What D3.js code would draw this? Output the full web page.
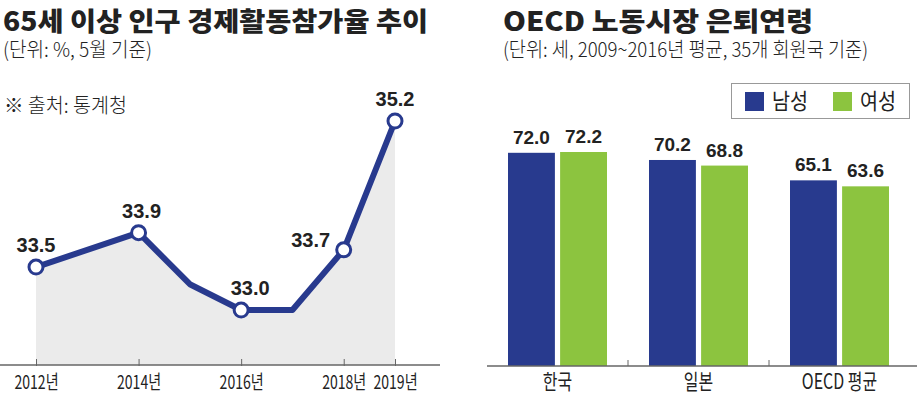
<!DOCTYPE html>
<html><head><meta charset="utf-8">
<script src="https://cdn.jsdelivr.net/npm/d3@7"></script>
<style>
html,body{margin:0;padding:0;background:#fff;}
svg{display:block;}
text{font-family:"Noto Sans CJK KR","Noto Sans",sans-serif;fill:#222;}
.num{font-family:"Liberation Sans",Arial,sans-serif;font-weight:700;}
</style></head>
<body>
<svg id="c" width="917" height="399"></svg>
<script>
// ---- Left chart data ----
const years = [2012, 2014, 2015, 2016, 2017, 2018, 2019];
const rates = [33.5, 33.9, 33.3, 33.0, 33.0, 33.7, 35.2];
const markedYears = [2012, 2014, 2016, 2018, 2019];
const tickYears = [2012, 2014, 2016, 2018, 2019];
const leftTitle = "65세 이상 인구 경제활동참가율 추이";
const leftUnit = "(단위: %, 5월 기준)";
const leftSource = "※ 출처: 통계청";

// ---- Right chart data ----
const countries = ["한국", "일본", "OECD 평균"];
const sexes = ["남성", "여성"];
const maleAge = [72.0, 70.2, 65.1];
const femaleAge = [72.2, 68.8, 63.6];
const rightTitle = "OECD 노동시장 은퇴연령";
const rightUnit = "(단위: 세, 2009~2016년 평균, 35개 회원국 기준)";

const NAVY = "#283a8e", GREEN = "#8cc43f", FILL = "#ebebeb", AXIS = "#666";
const svg = d3.select("#c");

// ================= LEFT =================
const L = svg.append("g");
L.append("text").attr("x", 3).attr("y", 31).attr("font-size", 26).attr("font-weight", 900)
  .attr("textLength", 425).attr("lengthAdjust", "spacingAndGlyphs").text(leftTitle);
L.append("text").attr("x", 3).attr("y", 57).attr("font-size", 20).attr("font-weight", 300)
  .attr("textLength", 149).attr("lengthAdjust", "spacingAndGlyphs").attr("fill", "#333").text(leftUnit);
L.append("text").attr("x", 4).attr("y", 113).attr("font-size", 20).attr("font-weight", 300)
  .attr("textLength", 123).attr("lengthAdjust", "spacingAndGlyphs").attr("fill", "#333").text(leftSource);

const xL = d3.scaleLinear().domain([2012, 2019]).range([36, 395]);
const yL = d3.scaleLinear().domain([32.36, 35.2]).range([365, 121]);
const pts = years.map((y, i) => ({year: y, v: rates[i]}));

L.append("path").datum(pts)
  .attr("d", d3.area().x(d => xL(d.year)).y0(yL(32.36)).y1(d => yL(d.v)))
  .attr("fill", FILL);

const axL = d3.axisBottom(xL).tickValues(tickYears).tickSize(-6).tickPadding(11)
  .tickFormat(d => d + "년");
const gAxL = L.append("g").attr("transform", "translate(0,365)").call(axL);
gAxL.select(".domain").remove();
gAxL.selectAll(".tick line").attr("stroke", AXIS).attr("y2", -6).attr("y1", 1);
gAxL.selectAll(".tick text").attr("font-size", 19).attr("fill", "#222").attr("font-weight", 400)
  .style("font-family", '"Noto Sans CJK KR",sans-serif').attr("transform", "scale(0.74,1)");
L.append("line").attr("x1", 0).attr("x2", 440).attr("y1", 365).attr("y2", 365)
  .attr("stroke", AXIS).attr("stroke-width", 1.3);

L.append("path").datum(pts)
  .attr("d", d3.line().x(d => xL(d.year)).y(d => yL(d.v)))
  .attr("fill", "none").attr("stroke", NAVY).attr("stroke-width", 6).attr("stroke-linejoin", "round");

const marked = pts.filter(d => markedYears.includes(d.year));
L.selectAll("circle.m").data(marked).join("circle")
  .attr("cx", d => xL(d.year)).attr("cy", d => yL(d.v)).attr("r", 7)
  .attr("fill", "#fff").attr("stroke", NAVY).attr("stroke-width", 3);

L.selectAll("text.v").data(marked).join("text").attr("class", "num")
  .attr("font-size", 20).attr("text-anchor", "middle")
  .attr("x", d => xL(d.year) + (d.year === 2018 ? -33 : d.year === 2016 ? 9 : d.year === 2014 ? 3 : 0))
  .attr("y", d => yL(d.v) + (d.year === 2018 ? -3 : -15))
  .text(d => d3.format(".1f")(d.v));

// ================= RIGHT =================
const R = svg.append("g");
R.append("text").attr("x", 503).attr("y", 31).attr("font-size", 26).attr("font-weight", 900)
  .attr("textLength", 310).attr("lengthAdjust", "spacingAndGlyphs").text(rightTitle);
R.append("text").attr("x", 503).attr("y", 57).attr("font-size", 20).attr("font-weight", 300)
  .attr("textLength", 365).attr("lengthAdjust", "spacingAndGlyphs").attr("fill", "#333").text(rightUnit);

// legend
const color = d3.scaleOrdinal().domain(sexes).range([NAVY, GREEN]);
R.append("rect").attr("x", 731.5).attr("y", 83.5).attr("width", 178).attr("height", 35)
  .attr("fill", "#fff").attr("stroke", "#999").attr("stroke-width", 1);
const lg = R.selectAll("g.lg").data(sexes).join("g")
  .attr("transform", (d, i) => `translate(${745 + i * 88},92)`);
lg.append("rect").attr("width", 19).attr("height", 19).attr("fill", d => color(d));
lg.append("text").attr("x", 27).attr("y", 17).attr("font-size", 22).attr("font-weight", 400)
  .attr("textLength", 36).attr("lengthAdjust", "spacingAndGlyphs").text(d => d);

const x0 = d3.scaleBand().domain(countries).range([487, 910]);
const x1 = d3.scaleBand().domain(sexes).range([0, 99]).paddingInner(0.1);
const yR = d3.scaleLinear().domain([18.6, 72.2]).range([366, 152]);

const rows = countries.map((c, i) => ({c, vals: [maleAge[i], femaleAge[i]]}));
const grp = R.selectAll("g.grp").data(rows).join("g")
  .attr("transform", d => `translate(${x0(d.c) + (x0.bandwidth() - 99) / 2},0)`);
grp.selectAll("rect").data(d => d.vals.map((v, j) => ({s: sexes[j], v}))).join("rect")
  .attr("x", d => x1(d.s)).attr("width", x1.bandwidth())
  .attr("y", d => yR(d.v)).attr("height", d => yR(18.6) - yR(d.v))
  .attr("fill", d => color(d.s));
grp.selectAll("text").data(d => d.vals.map((v, j) => ({s: sexes[j], v}))).join("text")
  .attr("class", "num").attr("font-size", 19).attr("text-anchor", "middle")
  .attr("x", d => x1(d.s) + x1.bandwidth() / 2).attr("y", d => yR(d.v) - 9)
  .text(d => d3.format(".1f")(d.v));

const axR = d3.axisBottom(x0).tickSize(0).tickPadding(8);
const gAxR = R.append("g").attr("transform", "translate(0,366)").call(axR);
gAxR.select(".domain").remove();
gAxR.selectAll(".tick text").attr("font-size", 21).attr("fill", "#222").attr("font-weight", 400)
  .style("font-family", '"Noto Sans CJK KR",sans-serif').attr("transform", "scale(0.76,1)");
R.append("line").attr("x1", 487).attr("x2", 917).attr("y1", 366).attr("y2", 366)
  .attr("stroke", AXIS).attr("stroke-width", 1.3);
R.selectAll("line.bt").data(countries.slice(1)).join("line")
  .attr("x1", d => x0(d)).attr("x2", d => x0(d)).attr("y1", 360).attr("y2", 366)
  .attr("stroke", AXIS);
</script>
</body></html>
